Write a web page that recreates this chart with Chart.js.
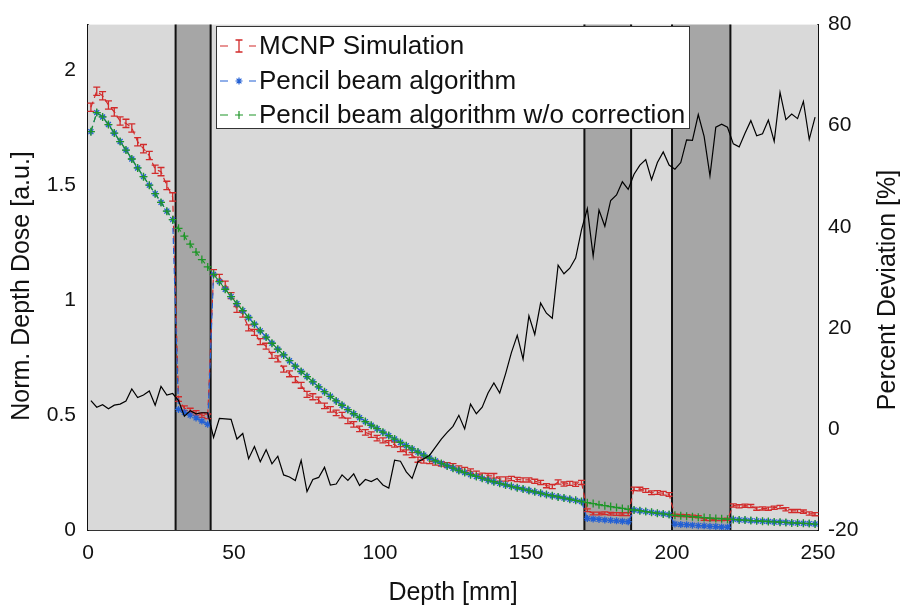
<!DOCTYPE html>
<html>
<head>
<meta charset="utf-8">
<script src="https://cdn.jsdelivr.net/npm/chart.js@4.4.1/dist/chart.umd.min.js"></script>
<style>
  body { margin: 0; background: #ffffff; }
  canvas { display: block; }
</style>
</head>
<body>
<canvas id="doseChart" width="905" height="610"></canvas>
<script>
// depth grid [mm], bin centres
const depth = [
    1, 3, 5, 7, 9, 11, 13, 15, 17, 19,
    21, 23, 25, 27, 29, 31, 33, 35, 37, 39,
    41, 43, 45, 47, 49, 51, 53, 55, 57, 59,
    61, 63, 65, 67, 69, 71, 73, 75, 77, 79,
    81, 83, 85, 87, 89, 91, 93, 95, 97, 99,
    101, 103, 105, 107, 109, 111, 113, 115, 117, 119,
    121, 123, 125, 127, 129, 131, 133, 135, 137, 139,
    141, 143, 145, 147, 149, 151, 153, 155, 157, 159,
    161, 163, 165, 167, 169, 171, 173, 175, 177, 179,
    181, 183, 185, 187, 189, 191, 193, 195, 197, 199,
    201, 203, 205, 207, 209, 211, 213, 215, 217, 219,
    221, 223, 225, 227, 229, 231, 233, 235, 237, 239,
    241, 243, 245, 247, 249
];

const mcnp = [
    1.84, 1.91, 1.89, 1.85, 1.82, 1.78, 1.77, 1.75, 1.69, 1.66,
    1.63, 1.57, 1.56, 1.50, 1.45, 0.57, 0.53, 0.52, 0.51, 0.50,
    0.495, 1.12, 1.10, 1.07, 1.02, 0.96, 0.94, 0.88, 0.86, 0.82,
    0.80, 0.76, 0.745, 0.70, 0.68, 0.655, 0.63, 0.59, 0.58, 0.565,
    0.54, 0.525, 0.51, 0.50, 0.475, 0.46, 0.44, 0.425, 0.415, 0.40,
    0.39, 0.378, 0.372, 0.352, 0.338, 0.326, 0.306, 0.302, 0.30, 0.293,
    0.288, 0.283, 0.279, 0.269, 0.263, 0.256, 0.246, 0.238, 0.236, 0.236,
    0.222, 0.222, 0.224, 0.220, 0.218, 0.218, 0.212, 0.207, 0.193, 0.189,
    0.209, 0.200, 0.203, 0.199, 0.207, 0.086, 0.072, 0.072, 0.073, 0.071,
    0.070, 0.069, 0.069, 0.179, 0.178, 0.172, 0.162, 0.163, 0.160, 0.155,
    0.064, 0.063, 0.062, 0.060, 0.058, 0.047, 0.046, 0.046, 0.046, 0.047,
    0.107, 0.103, 0.106, 0.104, 0.093, 0.094, 0.093, 0.097, 0.100, 0.090,
    0.083, 0.083, 0.080, 0.072, 0.069
];

const mcnpErr = [
    0.018, 0.018, 0.018, 0.018, 0.018, 0.018, 0.018, 0.018, 0.018, 0.018,
    0.018, 0.018, 0.018, 0.018, 0.018, 0.010, 0.010, 0.010, 0.010, 0.010,
    0.010, 0.013, 0.013, 0.013, 0.013, 0.013, 0.013, 0.013, 0.013, 0.013,
    0.013, 0.013, 0.013, 0.013, 0.013, 0.013, 0.013, 0.013, 0.013, 0.013,
    0.012, 0.012, 0.012, 0.012, 0.012, 0.012, 0.012, 0.012, 0.012, 0.012,
    0.011, 0.011, 0.011, 0.011, 0.011, 0.011, 0.011, 0.011, 0.011, 0.011,
    0.010, 0.010, 0.010, 0.010, 0.010, 0.010, 0.010, 0.010, 0.010, 0.010,
    0.009, 0.009, 0.009, 0.009, 0.009, 0.009, 0.009, 0.009, 0.009, 0.009,
    0.009, 0.009, 0.009, 0.009, 0.009, 0.006, 0.006, 0.006, 0.006, 0.006,
    0.006, 0.006, 0.006, 0.008, 0.008, 0.008, 0.008, 0.008, 0.008, 0.008,
    0.005, 0.005, 0.005, 0.005, 0.005, 0.005, 0.005, 0.005, 0.005, 0.005,
    0.007, 0.007, 0.007, 0.007, 0.007, 0.007, 0.007, 0.007, 0.007, 0.007,
    0.007, 0.007, 0.007, 0.007, 0.007
];

const pencil = [
    1.734, 1.817, 1.798, 1.765, 1.728, 1.691, 1.654, 1.615, 1.576, 1.538,
    1.501, 1.464, 1.426, 1.388, 1.351, 0.525, 0.512, 0.500, 0.488, 0.474,
    0.460, 1.113, 1.081, 1.048, 1.016, 0.985, 0.955, 0.925, 0.896, 0.867,
    0.840, 0.813, 0.787, 0.762, 0.737, 0.713, 0.690, 0.668, 0.645, 0.623,
    0.602, 0.582, 0.562, 0.543, 0.524, 0.506, 0.489, 0.472, 0.456, 0.441,
    0.426, 0.411, 0.396, 0.381, 0.367, 0.353, 0.339, 0.326, 0.313, 0.301,
    0.290, 0.279, 0.269, 0.259, 0.250, 0.241, 0.233, 0.225, 0.217, 0.210,
    0.203, 0.196, 0.190, 0.184, 0.178, 0.172, 0.166, 0.160, 0.154, 0.149,
    0.144, 0.139, 0.134, 0.129, 0.124, 0.050, 0.048, 0.046, 0.044, 0.042,
    0.040, 0.038, 0.036, 0.087, 0.084, 0.080, 0.077, 0.073, 0.070, 0.067,
    0.026, 0.024, 0.023, 0.021, 0.019, 0.018, 0.016, 0.015, 0.013, 0.012,
    0.046, 0.044, 0.043, 0.041, 0.040, 0.038, 0.037, 0.035, 0.034, 0.033,
    0.031, 0.030, 0.029, 0.028, 0.026
];

const pencilNoCorr = [
    1.734, 1.817, 1.798, 1.765, 1.728, 1.691, 1.654, 1.615, 1.576, 1.538,
    1.501, 1.464, 1.426, 1.388, 1.351, 1.313, 1.279, 1.244, 1.210, 1.177,
    1.145, 1.113, 1.081, 1.048, 1.016, 0.985, 0.955, 0.925, 0.896, 0.867,
    0.840, 0.813, 0.787, 0.762, 0.737, 0.713, 0.690, 0.668, 0.645, 0.623,
    0.602, 0.582, 0.562, 0.543, 0.524, 0.506, 0.489, 0.472, 0.456, 0.441,
    0.426, 0.411, 0.396, 0.381, 0.367, 0.353, 0.339, 0.326, 0.313, 0.301,
    0.290, 0.279, 0.269, 0.259, 0.250, 0.241, 0.233, 0.225, 0.217, 0.210,
    0.203, 0.196, 0.190, 0.184, 0.178, 0.172, 0.166, 0.160, 0.154, 0.149,
    0.144, 0.139, 0.134, 0.129, 0.124, 0.119, 0.115, 0.110, 0.106, 0.102,
    0.098, 0.094, 0.090, 0.087, 0.084, 0.080, 0.077, 0.073, 0.070, 0.067,
    0.064, 0.062, 0.060, 0.058, 0.056, 0.054, 0.052, 0.050, 0.049, 0.047,
    0.046, 0.044, 0.043, 0.041, 0.040, 0.038, 0.037, 0.035, 0.034, 0.033,
    0.031, 0.030, 0.029, 0.028, 0.026
];

// percent deviation, right axis
const deviation = [
    5.6, 4.3, 4.8, 4.0, 4.7, 4.9, 5.5, 7.9, 6.2, 6.7,
    7.5, 4.7, 8.4, 6.7, 7.0, 5.6, 2.5, 3.6, 3.0, 3.2,
    3.2, -1.7, 2.1, 2.0, 1.9, -2.0, -0.9, -5.9, -3.5, -6.5,
    -4.1, -6.9, -5.4, -9.1, -9.5, -10.2, -6.2, -12.4, -10.0, -9.6,
    -7.6, -11.1, -10.9, -9.1, -10.2, -8.9, -11.2, -10.0, -10.4, -9.8,
    -11.1, -11.7, -6.2, -6.4, -8.5, -9.8, -6.5, -5.9, -5.2, -3.6,
    -2.0, -0.7, 0.5, 2.7, 0.0, 4.9, 3.0, 4.3, 7.1, 9.1,
    7.1, 10.9, 15.1, 18.5, 13.8, 22.4, 18.7, 24.9, 22.9, 21.9,
    32.4, 30.7, 31.8, 33.8, 39.4, 43.6, 34.2, 43.3, 40.1, 45.2,
    46.3, 48.9, 47.4, 50.4, 52.2, 53.3, 49.3, 52.7, 54.8, 52.2,
    51.4, 52.7, 57.2, 57.1, 62.2, 57.9, 50.1, 59.7, 60.3, 59.7,
    56.4, 55.8, 58.5, 61.0, 58.0, 58.4, 61.1, 56.9, 66.6, 61.2,
    62.3, 61.4, 64.8, 57.3, 61.7
];

// inhomogeneous layers [mm]
const layers = [[30, 42], [170, 186], [200, 220]];

const xTicks = [0, 50, 100, 150, 200, 250];
const yTicks = [0, 0.5, 1, 1.5, 2];
const y2Ticks = [-20, 0, 20, 40, 60, 80];
const seriesNames = ["MCNP Simulation", "Pencil beam algorithm", "Pencil beam algorithm w/o correction"];

const RED = "#d22b2b";
const BLUE = "#2360d4";
const GREEN = "#1f9629";
const FONT = "'Liberation Sans', Arial, Helvetica, sans-serif";

function toPoints(ys) {
    return depth.map(function (x, i) { return { x: x, y: ys[i] }; });
}

// light gray plot area + darker layers
const layerPlugin = {
    id: "layers",
    beforeDatasetsDraw(chart) {
        const ctx = chart.ctx;
        const a = chart.chartArea;
        const xs = chart.scales.x;
        ctx.save();
        ctx.fillStyle = "#d9d9d9";
        ctx.fillRect(a.left, a.top, a.right - a.left, a.bottom - a.top);
        layers.forEach(function (l) {
            const x0 = xs.getPixelForValue(l[0]);
            const x1 = xs.getPixelForValue(l[1]);
            ctx.fillStyle = "#a6a6a6";
            ctx.fillRect(x0, a.top, x1 - x0, a.bottom - a.top);
            ctx.strokeStyle = "#111";
            ctx.lineWidth = 2;
            ctx.beginPath();
            ctx.moveTo(x0, a.top); ctx.lineTo(x0, a.bottom);
            ctx.moveTo(x1, a.top); ctx.lineTo(x1, a.bottom);
            ctx.stroke();
        });
        ctx.restore();
    }
};

// error bars on the MCNP series
const errorBarPlugin = {
    id: "errorBars",
    afterDatasetDraw(chart, args) {
        if (args.index !== 0) return;
        const ctx = chart.ctx;
        const xs = chart.scales.x;
        const ys = chart.scales.y;
        ctx.save();
        ctx.strokeStyle = RED;
        ctx.lineWidth = 1.3;
        ctx.beginPath();
        for (let i = 0; i < depth.length; i++) {
            const px = xs.getPixelForValue(depth[i]);
            const pTop = ys.getPixelForValue(mcnp[i] + mcnpErr[i]);
            const pBot = ys.getPixelForValue(mcnp[i] - mcnpErr[i]);
            ctx.moveTo(px, pTop); ctx.lineTo(px, pBot);
            ctx.moveTo(px - 3.5, pTop); ctx.lineTo(px + 3.5, pTop);
            ctx.moveTo(px - 3.5, pBot); ctx.lineTo(px + 3.5, pBot);
        }
        ctx.stroke();
        ctx.restore();
    }
};

function drawVerticalTitle(ctx, text, x, y) {
    ctx.save();
    ctx.translate(x, y);
    ctx.rotate(-Math.PI / 2);
    ctx.fillStyle = "#111";
    ctx.font = "25px " + FONT;
    ctx.textAlign = "center";
    ctx.textBaseline = "middle";
    ctx.fillText(text, 0, 0);
    ctx.restore();
}

// legend box and the two y titles (both read bottom to top)
const overlayPlugin = {
    id: "overlay",
    afterDraw(chart) {
        const ctx = chart.ctx;
        drawVerticalTitle(ctx, "Norm. Depth Dose [a.u.]", 22, 286);
        drawVerticalTitle(ctx, "Percent Deviation [%]", 888, 290);

        ctx.save();
        const bx = 216.5, by = 26.5, bw = 473, bh = 102;
        ctx.fillStyle = "#ffffff";
        ctx.fillRect(bx, by, bw, bh);
        ctx.strokeStyle = "#333";
        ctx.lineWidth = 1;
        ctx.strokeRect(bx, by, bw, bh);
        const rows = [46, 81, 115];
        const colors = [RED, BLUE, GREEN];
        ctx.font = "26px " + FONT;
        ctx.textBaseline = "middle";
        ctx.textAlign = "left";
        rows.forEach(function (ry, i) {
            ctx.strokeStyle = colors[i];
            ctx.lineWidth = 1.2;
            ctx.beginPath();
            ctx.moveTo(220, ry); ctx.lineTo(228, ry);
            ctx.moveTo(249, ry); ctx.lineTo(256, ry);
            ctx.stroke();
            const mx = 239;
            ctx.beginPath();
            if (i === 0) {
                ctx.lineWidth = 1.3;
                ctx.moveTo(mx, ry - 6); ctx.lineTo(mx, ry + 6);
                ctx.moveTo(mx - 3.5, ry - 6); ctx.lineTo(mx + 3.5, ry - 6);
                ctx.moveTo(mx - 3.5, ry + 6); ctx.lineTo(mx + 3.5, ry + 6);
            } else if (i === 1) {
                const r = 3.5;
                ctx.moveTo(mx - r, ry); ctx.lineTo(mx + r, ry);
                ctx.moveTo(mx, ry - r); ctx.lineTo(mx, ry + r);
                ctx.moveTo(mx - r * 0.7, ry - r * 0.7); ctx.lineTo(mx + r * 0.7, ry + r * 0.7);
                ctx.moveTo(mx - r * 0.7, ry + r * 0.7); ctx.lineTo(mx + r * 0.7, ry - r * 0.7);
            } else {
                const r = 4;
                ctx.moveTo(mx - r, ry); ctx.lineTo(mx + r, ry);
                ctx.moveTo(mx, ry - r); ctx.lineTo(mx, ry + r);
            }
            ctx.stroke();
            ctx.fillStyle = "#111";
            ctx.fillText(seriesNames[i], 259, ry + 1);
        });
        ctx.restore();
    }
};

const tickFont = { family: FONT, size: 21 };
const titleFont = { family: FONT, size: 25 };
const plainLabel = function (v) { return String(v); };

new Chart(document.getElementById("doseChart"), {
    type: "line",
    data: {
        datasets: [
            {
                label: seriesNames[0],
                data: toPoints(mcnp),
                yAxisID: "y",
                borderColor: RED,
                borderWidth: 1.2,
                borderDash: [6, 4],
                pointRadius: 0,
                order: 3,
            },
            {
                label: seriesNames[1],
                data: toPoints(pencil),
                yAxisID: "y",
                borderColor: BLUE,
                borderWidth: 1.2,
                borderDash: [6, 4],
                pointStyle: "star",
                pointRadius: 3.5,
                pointBorderColor: BLUE,
                pointBorderWidth: 1.3,
                order: 2,
            },
            {
                label: seriesNames[2],
                data: toPoints(pencilNoCorr),
                yAxisID: "y",
                borderColor: GREEN,
                borderWidth: 1.2,
                borderDash: [6, 4],
                pointStyle: "cross",
                pointRadius: 4,
                pointBorderColor: GREEN,
                pointBorderWidth: 1.3,
                order: 1,
            },
            {
                label: "Percent Deviation",
                data: toPoints(deviation),
                yAxisID: "y2",
                borderColor: "#000000",
                borderWidth: 1.2,
                pointRadius: 0,
                order: 0,
            },
        ],
    },
    options: {
        responsive: false,
        animation: false,
        layout: { padding: { top: 15, left: 0, right: 0, bottom: 0 } },
        plugins: {
            legend: { display: false },
            tooltip: { enabled: false },
        },
        scales: {
            x: {
                type: "linear",
                min: 0,
                max: 250,
                grid: { display: false, drawTicks: false },
                border: { color: "#333", width: 2 },
                ticks: { color: "#111", font: tickFont, padding: 11, maxRotation: 0, callback: plainLabel },
                title: { display: true, text: "Depth [mm]", color: "#111", font: titleFont, padding: { top: 0, bottom: 2 } },
                afterBuildTicks: function (s) { s.ticks = xTicks.map(function (v) { return { value: v }; }); },
                afterFit: function (s) { s.height = 80; },
            },
            y: {
                position: "left",
                min: 0,
                max: 2.2,
                grid: { display: false, drawTicks: false },
                border: { color: "#111", width: 2 },
                ticks: { color: "#111", font: tickFont, padding: 12, callback: plainLabel },
                title: { display: false },
                afterBuildTicks: function (s) { s.ticks = yTicks.map(function (v) { return { value: v }; }); },
                afterFit: function (s) { s.width = 88; },
            },
            y2: {
                position: "right",
                min: -20,
                max: 80,
                grid: { display: false, drawTicks: false },
                border: { color: "#111", width: 2 },
                ticks: { color: "#111", font: tickFont, padding: 10, callback: plainLabel },
                title: { display: false },
                afterBuildTicks: function (s) { s.ticks = y2Ticks.map(function (v) { return { value: v }; }); },
                afterFit: function (s) { s.width = 87; },
            },
        },
    },
    plugins: [layerPlugin, errorBarPlugin, overlayPlugin],
});
</script>
</body>
</html>
